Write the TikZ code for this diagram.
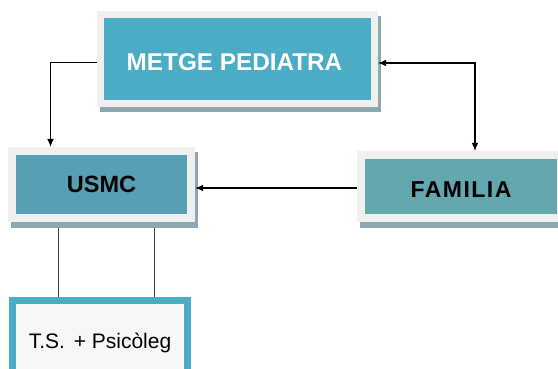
\documentclass[tikz,border=0pt]{standalone}
\usepackage{fontspec}
\setmainfont{Liberation Sans}
\newfontfamily\famfont[LetterSpace=6.5]{Liberation Sans}
\usepackage{tikz}
\usetikzlibrary{arrows.meta,backgrounds}
\definecolor{metgeblue}{HTML}{4BACC6}
\definecolor{usmcblue}{HTML}{569FB4}
\definecolor{familiablue}{HTML}{63A7AF}
\definecolor{framegray}{HTML}{F0F0F0}
\definecolor{shadowgray}{HTML}{8CA8AE}
\definecolor{tsfill}{HTML}{F7F7F5}

\begin{document}
\begin{tikzpicture}[x=1pt, y=-1pt,
	box/.style={rectangle, inner sep=0pt, draw=framegray, font=\bfseries\fontsize{23.5}{28}\selectfont,
		preaction={draw=shadowgray, fill=shadowgray, transform canvas={shift={(3pt,-5.5pt)}}}},
	arr/.style={-{Latex[length=8pt,width=6.5pt]}, line width=1.2pt},
	link/.style={line width=0.8pt, black!75}]
	\useasboundingbox (0,0) rectangle (558,369);

	\node[box, fill=metgeblue, line width=7pt, minimum width=274pt, minimum height=89pt,
		font=\bfseries\fontsize{24.3}{28}\selectfont, text=white, text height=22.5pt, text depth=0pt] (metge) at (237.5,59) {METGE PEDIATRA\hspace*{6pt}};
	\node[box, fill=usmcblue, line width=8pt, minimum width=179pt, minimum height=67pt] (usmc) at (101.5,184.5) {USMC};
	\node[box, fill=familiablue, line width=8pt, minimum width=200pt, minimum height=63pt,
		font=\famfont\bfseries\fontsize{23}{28}\selectfont, text height=21pt, text depth=0pt] (familia) at (461,186.5) {FAMILIA};
	\node[rectangle, inner sep=0pt, draw=metgeblue, fill=tsfill, line width=7pt, minimum width=175pt, minimum height=82pt,
		font=\fontsize{21}{25}\selectfont, text depth=0pt] (ts) at (100,341) {T.S.\hspace{3pt} + Psicòleg};

	\draw[arr, line width=1pt] ([yshift=-4pt]metge.west) -| ([xshift=-51pt]usmc.north);
	\draw[arr, {Latex[length=8pt,width=6.5pt]}-{Latex[length=8pt,width=6.5pt]}] ([yshift=-4pt]metge.east) -| ([xshift=14pt]familia.north);
	\coordinate (famin) at ([yshift=-1.5pt]familia.west);
	\draw[arr] (famin) -- (famin -| usmc.east);

	\coordinate (linka) at ([xshift=-43.5pt]usmc.south);
	\coordinate (linkb) at ([xshift=52.5pt]usmc.south);
	\begin{scope}[on background layer]
		\foreach \p in {linka,linkb} {
			\draw[link] (\p) -- (\p |- ts.north);
		}
	\end{scope}
\end{tikzpicture}
\end{document}
